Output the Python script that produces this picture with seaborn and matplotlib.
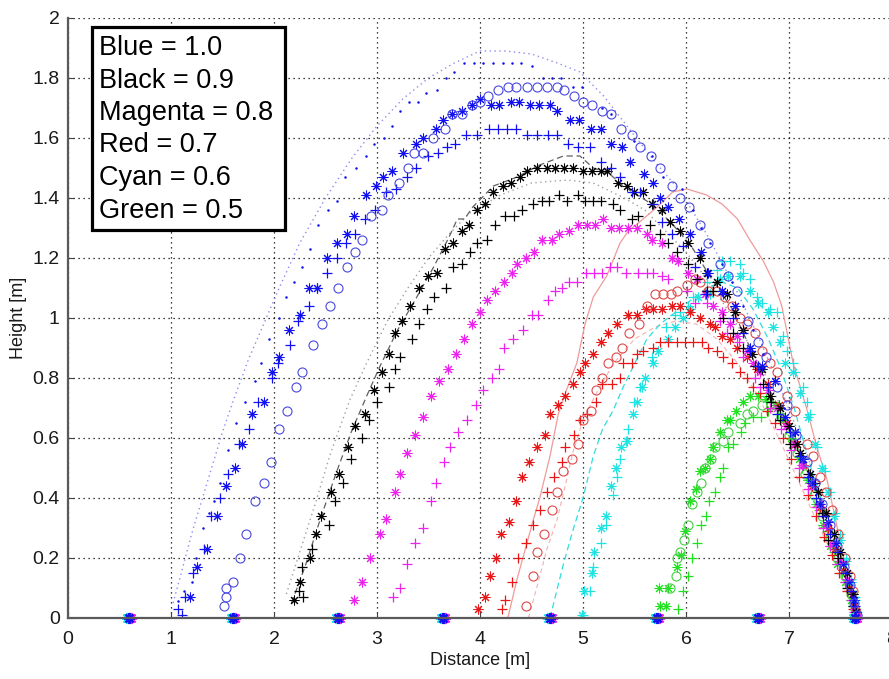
import numpy as np
import pandas as pd
import matplotlib
matplotlib.use("Agg")
import matplotlib.pyplot as plt
import seaborn as sns
from matplotlib.patches import Rectangle

# ---------------- data (distance [m], height [m]) ----------------
blue_dots = [(1.07,0.057),(1.13,0.09),(1.20,0.12),(1.24,0.20),(1.31,0.30),(1.37,0.35),(1.42,0.39),(1.48,0.45),(1.55,0.56),(1.63,0.65),(1.72,0.72),(1.82,0.79),(1.87,0.85),(1.95,0.93),(2.05,1.00),(2.12,1.07),(2.19,1.12),(2.27,1.17),(2.35,1.23),(2.43,1.31),(2.52,1.36),(2.61,1.39),(2.69,1.47),(2.80,1.50),(2.89,1.54),(2.97,1.58),(3.07,1.60),(3.15,1.64),(3.22,1.69),(3.31,1.72),(3.40,1.72),(3.48,1.75),(3.58,1.76),(3.67,1.80),(3.75,1.82),(3.84,1.85),(3.94,1.85),(4.03,1.85),(4.13,1.85),(4.22,1.85),(4.31,1.85),(4.40,1.85),(4.50,1.84),(4.61,1.80),(4.70,1.80),(4.79,1.80),(4.90,1.77),(4.99,1.77),(5.18,1.70),(5.27,1.68),(5.50,1.59),(5.67,1.54),(5.78,1.47),(5.96,1.43),(6.07,1.36),(6.15,1.30),(6.23,1.25),(6.35,1.18),(6.45,1.12),(6.55,1.04),(6.65,0.96),(6.75,0.88),(6.85,0.79),(6.95,0.70),(7.05,0.61),(7.15,0.52),(7.25,0.43),(7.35,0.34),(7.45,0.25),(7.55,0.15),(7.62,0.07),(7.66,0.02)]
blue_star = [(1.18,0.07),(1.25,0.17),(1.35,0.23),(1.45,0.34),(1.53,0.44),(1.62,0.50),(1.69,0.58),(1.79,0.68),(1.90,0.72),(1.98,0.82),(2.05,0.87),(2.15,0.96),(2.25,1.01),(2.34,1.10),(2.42,1.10),(2.51,1.20),(2.61,1.25),(2.71,1.28),(2.78,1.34),(2.89,1.41),(2.99,1.44),(3.06,1.47),(3.15,1.49),(3.25,1.55),(3.38,1.58),(3.45,1.60),(3.57,1.63),(3.64,1.66),(3.73,1.68),(3.83,1.69),(3.92,1.71),(4.00,1.73),(4.11,1.71),(4.18,1.71),(4.30,1.72),(4.38,1.72),(4.49,1.71),(4.57,1.71),(4.68,1.71),(4.75,1.69),(4.87,1.66),(4.96,1.66),(5.08,1.63),(5.17,1.63),(5.27,1.58),(5.38,1.57),(5.46,1.52),(5.59,1.48),(5.68,1.45),(5.75,1.40),(5.83,1.37),(5.93,1.33),(6.04,1.28),(6.15,1.22),(6.21,1.15),(6.35,1.09),(6.48,1.04),(6.62,0.90),(6.74,0.84),(6.86,0.79),(6.96,0.67),(7.06,0.62),(7.14,0.53),(7.22,0.45),(7.30,0.38),(7.38,0.32),(7.46,0.25),(7.52,0.18),(7.58,0.12),(7.63,0.06),(7.65,0.01)]
blue_plus = [(1.07,0.03),(1.11,0.01),(1.14,0.07),(1.21,0.15),(1.32,0.23),(1.39,0.34),(1.48,0.40),(1.55,0.48),(1.66,0.58),(1.76,0.63),(1.84,0.72),(1.98,0.80),(2.04,0.85),(2.16,0.91),(2.23,0.99),(2.34,1.04),(2.42,1.10),(2.51,1.15),(2.61,1.20),(2.70,1.25),(2.79,1.28),(2.88,1.33),(2.98,1.36),(3.09,1.42),(3.18,1.43),(3.29,1.47),(3.38,1.50),(3.50,1.54),(3.59,1.55),(3.68,1.57),(3.76,1.58),(3.86,1.61),(3.97,1.61),(4.09,1.63),(4.17,1.63),(4.26,1.63),(4.35,1.63),(4.46,1.61),(4.55,1.61),(4.66,1.61),(4.75,1.61),(4.85,1.58),(4.95,1.57),(5.07,1.57),(5.17,1.52),(5.27,1.50),(5.36,1.47),(5.48,1.42),(5.55,1.42),(5.68,1.38),(5.77,1.32),(5.86,1.28),(5.97,1.24),(6.09,1.17),(6.19,1.08),(6.36,1.08),(6.46,1.00),(6.55,0.95),(6.62,0.89),(6.70,0.84),(6.80,0.77),(6.88,0.68),(7.01,0.62),(7.11,0.54),(7.18,0.47),(7.26,0.40),(7.33,0.34),(7.40,0.28),(7.47,0.22),(7.54,0.15),(7.60,0.09),(7.64,0.04)]
blue_circ = [(1.51,0.04),(1.53,0.07),(1.53,0.10),(1.60,0.12),(1.67,0.20),(1.73,0.28),(1.82,0.39),(1.90,0.45),(1.97,0.52),(2.05,0.63),(2.13,0.69),(2.21,0.77),(2.27,0.82),(2.38,0.91),(2.47,0.98),(2.54,1.04),(2.62,1.10),(2.71,1.17),(2.79,1.22),(2.85,1.26),(2.94,1.34),(3.05,1.36),(3.11,1.41),(3.21,1.45),(3.30,1.50),(3.36,1.55),(3.45,1.55),(3.54,1.60),(3.66,1.63),(3.73,1.68),(3.83,1.68),(3.92,1.71),(4.00,1.72),(4.08,1.74),(4.17,1.76),(4.27,1.77),(4.35,1.77),(4.46,1.77),(4.55,1.77),(4.65,1.77),(4.75,1.77),(4.82,1.76),(4.91,1.74),(5.00,1.72),(5.09,1.71),(5.18,1.69),(5.27,1.68),(5.37,1.63),(5.48,1.61),(5.55,1.57),(5.66,1.54),(5.75,1.50),(5.86,1.44),(5.94,1.40),(6.03,1.37),(6.14,1.31),(6.21,1.25),(6.33,1.18),(6.41,1.14),(6.50,1.09),(6.60,0.99),(6.70,0.92),(6.78,0.87),(6.88,0.77),(6.98,0.71),(7.07,0.61),(7.17,0.52),(7.25,0.45),(7.32,0.38),(7.40,0.31),(7.47,0.24),(7.53,0.17),(7.59,0.11),(7.63,0.05),(7.66,0.01)]
blue_line = [(1.02,0.05),(1.10,0.15),(1.20,0.28),(1.35,0.45),(1.50,0.62),(1.60,0.72),(1.75,0.86),(1.90,0.98),(2.05,1.10),(2.25,1.25),(2.50,1.40),(2.75,1.53),(3.00,1.64),(3.25,1.73),(3.50,1.80),(3.75,1.85),(4.00,1.89),(4.25,1.89),(4.50,1.88),(4.75,1.85),(4.97,1.82),(5.20,1.74),(5.45,1.63),(5.70,1.52),(5.95,1.42),(6.20,1.28),(6.45,1.12),(6.70,0.94),(6.95,0.74),(7.20,0.52),(7.40,0.32),(7.55,0.16),(7.67,0.02)]

black_star = [(2.19,0.06),(2.25,0.12),(2.35,0.20),(2.41,0.28),(2.46,0.34),(2.55,0.42),(2.63,0.48),(2.72,0.57),(2.79,0.64),(2.88,0.68),(2.97,0.76),(3.05,0.82),(3.12,0.88),(3.17,0.95),(3.24,0.99),(3.32,1.04),(3.41,1.10),(3.50,1.14),(3.58,1.15),(3.66,1.23),(3.74,1.25),(3.83,1.29),(3.89,1.31),(3.97,1.36),(4.05,1.38),(4.13,1.42),(4.22,1.44),(4.30,1.45),(4.39,1.47),(4.46,1.49),(4.55,1.50),(4.65,1.50),(4.73,1.50),(4.82,1.50),(4.90,1.50),(5.00,1.49),(5.09,1.49),(5.17,1.49),(5.23,1.49),(5.34,1.45),(5.43,1.44),(5.50,1.42),(5.58,1.42),(5.67,1.38),(5.77,1.36),(5.84,1.32),(5.94,1.29),(6.02,1.25),(6.14,1.20),(6.20,1.15),(6.30,1.12),(6.40,1.08),(6.48,1.02),(6.55,0.96),(6.64,0.88),(6.74,0.83),(6.82,0.74),(6.91,0.70),(7.00,0.64),(7.08,0.58),(7.11,0.55),(7.20,0.48),(7.28,0.42),(7.36,0.35),(7.44,0.28),(7.50,0.22),(7.56,0.15),(7.62,0.08),(7.65,0.02)]
black_plus = [(2.24,0.09),(2.28,0.07),(2.27,0.17),(2.37,0.23),(2.53,0.31),(2.59,0.39),(2.67,0.45),(2.75,0.53),(2.85,0.60),(2.92,0.66),(3.00,0.72),(3.12,0.77),(3.17,0.83),(3.22,0.87),(3.34,0.93),(3.41,0.98),(3.49,1.03),(3.55,1.07),(3.67,1.10),(3.74,1.17),(3.83,1.18),(3.90,1.22),(3.97,1.25),(4.07,1.26),(4.15,1.31),(4.24,1.34),(4.33,1.34),(4.41,1.36),(4.51,1.38),(4.60,1.39),(4.67,1.39),(4.77,1.41),(4.84,1.39),(4.95,1.41),(5.02,1.39),(5.10,1.39),(5.17,1.39),(5.29,1.38),(5.36,1.36),(5.48,1.33),(5.53,1.34),(5.65,1.31),(5.75,1.28),(5.83,1.25),(5.91,1.22),(6.02,1.18),(6.11,1.13),(6.20,1.09),(6.26,1.09),(6.36,1.00),(6.46,0.95),(6.55,0.90),(6.67,0.84),(6.75,0.78),(6.83,0.72),(6.91,0.66),(7.01,0.58),(7.11,0.54),(7.18,0.48),(7.25,0.45),(7.32,0.35),(7.38,0.26),(7.48,0.20),(7.56,0.10),(7.62,0.04),(7.64,0.00)]
black_dash = [(2.17,0.05),(2.30,0.17),(2.45,0.33),(2.60,0.48),(2.75,0.62),(2.90,0.74),(3.03,0.84),(3.20,0.96),(3.37,1.06),(3.55,1.17),(3.70,1.27),(3.78,1.33),(3.85,1.33),(3.93,1.37),(4.13,1.44),(4.36,1.47),(4.58,1.51),(4.81,1.54),(4.97,1.54),(5.10,1.50),(5.26,1.48),(5.39,1.44),(5.62,1.39),(5.85,1.32),(6.05,1.24),(6.25,1.13),(6.45,1.03),(6.65,0.88),(6.85,0.72),(7.05,0.60),(7.25,0.45),(7.45,0.27),(7.60,0.10),(7.65,0.00)]
black_dot = [(2.12,0.08),(2.25,0.22),(2.40,0.38),(2.55,0.55),(2.74,0.73),(2.90,0.85),(3.10,0.99),(3.30,1.10),(3.50,1.20),(3.70,1.28),(3.90,1.35),(4.20,1.41),(4.50,1.45),(4.85,1.46),(5.10,1.45),(5.40,1.40),(5.60,1.36),(5.80,1.29),(6.00,1.22),(6.20,1.13),(6.40,1.03),(6.60,0.92),(6.80,0.79),(7.00,0.65),(7.20,0.48),(7.40,0.30),(7.55,0.15),(7.65,0.00)]

magenta_star = [(2.78,0.06),(2.85,0.12),(2.93,0.20),(3.03,0.28),(3.09,0.33),(3.17,0.42),(3.22,0.48),(3.29,0.55),(3.37,0.61),(3.45,0.67),(3.52,0.74),(3.60,0.79),(3.69,0.83),(3.77,0.88),(3.84,0.93),(3.92,0.98),(4.00,1.02),(4.07,1.06),(4.15,1.09),(4.23,1.12),(4.31,1.15),(4.36,1.18),(4.45,1.20),(4.52,1.22),(4.60,1.26),(4.70,1.26),(4.77,1.28),(4.86,1.29),(4.95,1.31),(5.04,1.31),(5.12,1.31),(5.19,1.33),(5.27,1.30),(5.35,1.30),(5.44,1.30),(5.52,1.30),(5.62,1.28),(5.67,1.26),(5.77,1.25),(5.86,1.20),(5.92,1.19),(6.02,1.15),(6.11,1.13),(6.18,1.08),(6.26,1.04),(6.35,1.02),(6.43,0.98),(6.50,0.94),(6.59,0.89),(6.65,0.85),(6.72,0.82),(6.80,0.76),(6.88,0.70),(6.97,0.64),(7.05,0.58),(7.13,0.51),(7.21,0.45),(7.29,0.38),(7.36,0.31),(7.43,0.25),(7.50,0.19),(7.56,0.13),(7.61,0.08),(7.64,0.03)]
magenta_plus = [(3.16,0.07),(3.22,0.10),(3.29,0.18),(3.37,0.25),(3.45,0.30),(3.52,0.39),(3.57,0.45),(3.65,0.52),(3.71,0.57),(3.79,0.62),(3.87,0.66),(3.96,0.71),(4.03,0.76),(4.12,0.80),(4.18,0.83),(4.23,0.90),(4.32,0.93),(4.42,0.96),(4.50,1.01),(4.56,1.01),(4.66,1.06),(4.73,1.09),(4.80,1.10),(4.86,1.12),(4.94,1.12),(5.03,1.15),(5.11,1.15),(5.18,1.15),(5.26,1.17),(5.33,1.17),(5.42,1.15),(5.53,1.15),(5.62,1.15),(5.68,1.15),(5.77,1.14),(5.83,1.13),(6.01,1.09),(6.09,1.05),(6.20,1.05),(6.33,0.99),(6.40,0.95),(6.51,0.92),(6.55,0.87),(6.67,0.80),(6.72,0.77),(6.82,0.70),(6.92,0.63),(7.02,0.56),(7.10,0.50),(7.18,0.43),(7.26,0.37),(7.33,0.30),(7.40,0.24),(7.47,0.18),(7.54,0.12),(7.60,0.06),(7.63,0.02)]

red_star = [(3.98,0.03),(4.05,0.07),(4.10,0.14),(4.16,0.20),(4.20,0.28),(4.28,0.32),(4.35,0.39),(4.41,0.47),(4.48,0.52),(4.55,0.57),(4.63,0.61),(4.68,0.68),(4.76,0.71),(4.83,0.74),(4.90,0.78),(4.97,0.82),(5.02,0.85),(5.10,0.88),(5.17,0.92),(5.24,0.95),(5.33,0.98),(5.44,1.01),(5.52,1.01),(5.61,1.03),(5.68,1.03),(5.77,1.03),(5.86,1.04),(5.94,1.04),(6.04,1.02),(6.14,1.00),(6.23,0.98),(6.28,0.97),(6.35,0.94),(6.43,0.93),(6.50,0.90),(6.59,0.87),(6.69,0.83),(6.80,0.78),(6.90,0.71),(6.98,0.65),(7.06,0.58),(7.14,0.51),(7.22,0.44),(7.30,0.37),(7.38,0.30),(7.45,0.23),(7.52,0.16),(7.58,0.10),(7.63,0.04)]
red_plus = [(4.21,0.03),(4.24,0.06),(4.31,0.12),(4.37,0.20),(4.45,0.25),(4.51,0.31),(4.58,0.36),(4.65,0.42),(4.72,0.47),(4.80,0.52),(4.83,0.57),(4.91,0.61),(4.97,0.66),(5.04,0.68),(5.13,0.72),(5.18,0.78),(5.28,0.78),(5.36,0.80),(5.39,0.85),(5.48,0.85),(5.52,0.88),(5.58,0.89),(5.68,0.90),(5.75,0.92),(5.83,0.92),(5.91,0.92),(5.99,0.92),(6.07,0.92),(6.16,0.92),(6.21,0.90),(6.30,0.89),(6.36,0.87),(6.45,0.85),(6.52,0.82),(6.59,0.80),(6.65,0.77),(6.72,0.75),(6.79,0.69),(6.86,0.65),(6.94,0.60),(7.02,0.53),(7.10,0.47),(7.18,0.41),(7.26,0.34),(7.34,0.27),(7.42,0.21),(7.49,0.15),(7.56,0.09),(7.62,0.03)]
red_circ = [(4.45,0.04),(4.51,0.14),(4.55,0.22),(4.62,0.28),(4.70,0.36),(4.75,0.42),(4.81,0.49),(4.89,0.53),(4.95,0.58),(5.00,0.66),(5.08,0.69),(5.13,0.76),(5.18,0.80),(5.24,0.85),(5.32,0.87),(5.38,0.90),(5.45,0.95),(5.54,0.98),(5.62,1.04),(5.70,1.08),(5.78,1.08),(5.85,1.08),(5.91,1.09),(6.01,1.11),(6.09,1.13),(6.14,1.12),(6.21,1.09),(6.30,1.09),(6.38,1.07),(6.45,1.04),(6.52,1.00),(6.59,0.98),(6.67,0.95),(6.74,0.89),(6.82,0.85),(6.88,0.82),(6.98,0.74),(7.06,0.69),(7.17,0.58),(7.23,0.54),(7.30,0.47),(7.36,0.42),(7.42,0.36),(7.48,0.28),(7.54,0.20),(7.59,0.14),(7.62,0.09),(7.65,0.02)]
red_line = [(4.27,0.00),(4.36,0.13),(4.44,0.23),(4.52,0.33),(4.58,0.40),(4.68,0.54),(4.76,0.68),(4.84,0.76),(4.94,0.85),(5.02,0.98),(5.10,1.07),(5.23,1.14),(5.36,1.25),(5.44,1.29),(5.55,1.32),(5.72,1.37),(5.87,1.42),(6.01,1.43),(6.20,1.41),(6.35,1.38),(6.50,1.33),(6.62,1.26),(6.75,1.19),(6.85,1.12),(6.93,1.04),(7.04,0.85),(7.17,0.70),(7.27,0.57),(7.37,0.46),(7.45,0.33),(7.55,0.17),(7.65,0.00)]
red_dash = [(4.47,0.00),(4.55,0.10),(4.65,0.23),(4.75,0.33),(4.84,0.46),(4.90,0.55),(5.00,0.66),(5.13,0.75),(5.30,0.85),(5.50,0.93),(5.70,0.97),(5.90,0.99),(6.10,0.98),(6.30,0.93),(6.50,0.85),(6.70,0.74),(6.90,0.60),(7.10,0.45),(7.30,0.30),(7.50,0.15),(7.65,0.00)]

cyan_star = [(4.99,0.01),(5.01,0.09),(5.09,0.15),(5.11,0.22),(5.17,0.30),(5.22,0.34),(5.27,0.44),(5.32,0.50),(5.37,0.57),(5.43,0.59),(5.49,0.68),(5.52,0.72),(5.57,0.77),(5.60,0.80),(5.68,0.85),(5.73,0.89),(5.83,0.93),(5.89,0.97),(5.97,1.00),(6.04,1.03),(6.12,1.07),(6.23,1.08),(6.33,1.13),(6.41,1.14),(6.52,1.14),(6.62,1.09),(6.70,1.05),(6.80,1.02),(6.84,0.97),(6.91,0.92),(6.96,0.85),(7.04,0.82),(7.11,0.75),(7.18,0.67),(7.25,0.58),(7.32,0.50),(7.38,0.42),(7.44,0.34),(7.50,0.26),(7.55,0.19),(7.60,0.12),(7.64,0.06),(7.66,0.01)]
cyan_plus = [(5.00,0.01),(5.07,0.09),(5.10,0.17),(5.17,0.25),(5.22,0.31),(5.29,0.41),(5.33,0.47),(5.36,0.53),(5.42,0.59),(5.44,0.63),(5.50,0.72),(5.55,0.77),(5.67,0.87),(5.81,0.97),(5.89,1.01),(5.94,1.02),(6.02,1.04),(6.07,1.07),(6.20,1.12),(6.30,1.16),(6.35,1.19),(6.43,1.19),(6.52,1.18),(6.55,1.15),(6.62,1.13),(6.69,1.07),(6.74,1.05),(6.82,1.03),(6.88,1.02),(6.94,0.94),(6.98,0.89),(7.04,0.85),(7.06,0.82),(7.14,0.77),(7.17,0.72),(7.20,0.68),(7.27,0.57),(7.35,0.49),(7.40,0.42),(7.45,0.35),(7.50,0.28),(7.55,0.20),(7.60,0.13),(7.64,0.07),(7.66,0.02)]
cyan_dash = [(4.68,0.00),(4.73,0.07),(4.81,0.18),(4.90,0.29),(5.00,0.40),(5.10,0.54),(5.19,0.63),(5.29,0.69),(5.39,0.77),(5.49,0.84),(5.62,0.93),(5.75,0.98),(5.90,1.02),(6.05,1.06),(6.20,1.10),(6.35,1.12),(6.50,1.10),(6.65,1.03),(6.80,0.93),(6.91,0.84),(7.05,0.70),(7.23,0.48),(7.40,0.30),(7.55,0.15),(7.66,0.00)]

green_star = [(5.75,0.04),(5.81,0.04),(5.74,0.10),(5.83,0.10),(5.91,0.17),(5.95,0.21),(5.99,0.29),(6.04,0.39),(6.10,0.43),(6.14,0.49),(6.18,0.50),(6.23,0.53),(6.26,0.57),(6.33,0.62),(6.40,0.66),(6.43,0.66),(6.49,0.69),(6.55,0.72),(6.62,0.74),(6.70,0.74),(6.78,0.73),(6.86,0.71),(6.94,0.66),(7.02,0.60),(7.10,0.53),(7.18,0.46),(7.26,0.38),(7.33,0.31),(7.40,0.24),(7.47,0.18),(7.54,0.12),(7.60,0.06),(7.64,0.02)]
green_circ = [(5.84,0.10),(5.90,0.14),(5.91,0.20),(5.94,0.22),(5.98,0.26),(6.02,0.31),(6.06,0.38),(6.11,0.42),(6.15,0.45),(6.18,0.50),(6.24,0.53),(6.28,0.57),(6.36,0.59),(6.41,0.62),(6.52,0.65),(6.59,0.68),(6.65,0.69),(6.74,0.71),(6.83,0.71),(6.92,0.67),(7.00,0.61),(7.08,0.55),(7.16,0.48),(7.24,0.41),(7.32,0.34),(7.40,0.27),(7.47,0.20),(7.54,0.14),(7.60,0.08),(7.64,0.03)]
green_plus = [(5.92,0.03),(5.97,0.09),(6.02,0.14),(6.06,0.20),(6.11,0.25),(6.15,0.31),(6.19,0.34),(6.22,0.39),(6.28,0.42),(6.33,0.47),(6.36,0.50),(6.41,0.57),(6.46,0.58),(6.53,0.62),(6.57,0.65),(6.65,0.67),(6.73,0.67),(6.80,0.69),(6.89,0.68),(6.97,0.63),(7.05,0.57),(7.13,0.50),(7.21,0.43),(7.29,0.36),(7.37,0.29),(7.44,0.22),(7.51,0.15),(7.57,0.09),(7.62,0.04)]

ground_x = [0.59, 1.60, 2.62, 3.64, 4.68, 5.72, 6.70, 7.64]

legend_lines = ["Blue = 1.0", "Black = 0.9", "Magenta = 0.8", "Red = 0.7", "Cyan = 0.6", "Green = 0.5"]
x_ticks = [0, 1, 2, 3, 4, 5, 6, 7, 8]
y_ticks = [0, 0.2, 0.4, 0.6, 0.8, 1, 1.2, 1.4, 1.6, 1.8, 2]
y_ticklabels = ["0", "0.2", "0.4", "0.6", "0.8", "1", "1.2", "1.4", "1.6", "1.8", "2"]

# ---------------- figure ----------------
W, H = 889, 679
fig = plt.figure(figsize=(W / 100, H / 100), dpi=100)
ax = fig.add_axes([68 / W, (H - 618) / H, 824 / W, 600 / H])

STAR = (8, 2, 0)

def draw(points, color, marker="none", ms=6, mew=0.75, mfc=None, ls="none", lw=1.0, z=3):
    df = pd.DataFrame(points, columns=["x", "y"])
    sns.lineplot(data=df, x="x", y="y", sort=False, estimator=None, ax=ax,
                 color=color, marker=marker, markersize=ms, markeredgewidth=mew,
                 markeredgecolor=color, markerfacecolor=(mfc if mfc is not None else color),
                 linestyle=ls, linewidth=lw, zorder=z, legend=False)

# lines
draw(blue_line, "#8c8cf0", ls=(0, (1, 2.5)), lw=1.0, z=2)
draw(black_dot, "#a0a0a0", ls=(0, (1, 2.5)), lw=1.0, z=2)
draw(black_dash, "#606060", ls=(0, (5, 3)), lw=0.9, z=2)
draw(red_line, "#f09a9a", ls="-", lw=0.9, z=2)
draw(red_dash, "#f4b0b0", ls=(0, (4, 3)), lw=0.8, z=2)
draw(cyan_dash, "#30dede", ls=(0, (5, 3)), lw=0.9, z=2)

# markers
CY, GR, RD, MG, BK, BL = "#1ee3e3", "#1ee21e", "#e81616", "#ee22ee", "#000000", "#1010f0"
SMS, PMS, OMS = 7.0, 7.5, 6.5
draw(cyan_star, CY, STAR, ms=SMS, z=3)
draw(cyan_plus, CY, "+", ms=PMS, mew=0.9, z=3)
draw(green_star, GR, STAR, ms=SMS, z=3)
draw(green_circ, "#40d040", "o", ms=OMS, mew=0.8, mfc="none", z=3)
draw(green_plus, GR, "+", ms=PMS, mew=0.9, z=3)
draw(red_star, RD, STAR, ms=SMS, z=4)
draw(red_plus, RD, "+", ms=PMS, mew=0.9, z=4)
draw(red_circ, "#e04848", "o", ms=OMS, mew=0.8, mfc="none", z=4)
draw(magenta_star, MG, STAR, ms=SMS, z=4)
draw(magenta_plus, MG, "+", ms=PMS, mew=0.9, z=4)
draw(black_star, BK, STAR, ms=SMS, z=5)
draw(black_plus, BK, "+", ms=PMS, mew=0.9, z=5)
draw(blue_star, BL, STAR, ms=SMS, z=5)
draw(blue_plus, BL, "+", ms=PMS, mew=0.9, z=5)
draw(blue_circ, "#4848e0", "o", ms=OMS, mew=0.8, mfc="none", z=5)
draw(blue_dots, BL, "o", ms=1.8, mew=0, z=5)

# launch markers on the ground
gdf = pd.DataFrame({"x": ground_x, "y": [0.0] * len(ground_x)})
for col, off, zz in ((CY, -0.02, 6), (MG, 0.02, 6), (BL, 0.0, 7)):
    sns.lineplot(data=gdf.assign(x=gdf["x"] + off), x="x", y="y", sort=False, estimator=None,
                 ax=ax, color=col, marker=STAR, markersize=8, markeredgewidth=1.4,
                 markeredgecolor=col, linestyle="none", zorder=zz, legend=False, clip_on=False)

# axes styling
ax.set_xlim(0, 8)
ax.set_ylim(0, 2)
ax.set_xticks(x_ticks)
ax.set_xticklabels([str(t) for t in x_ticks])
ax.set_yticks(y_ticks)
ax.set_yticklabels(y_ticklabels)
ax.grid(True, color="black", linestyle=(0, (1, 3)), linewidth=0.9)
ax.set_axisbelow(True)
for s in ("top", "right"):
    ax.spines[s].set_visible(False)
for s in ("left", "bottom"):
    ax.spines[s].set_color("#5a5a5a")
    ax.spines[s].set_linewidth(1.6)
    ax.spines[s].set_zorder(7)

tick_font = ["Liberation Sans", "DejaVu Sans"]
ax.tick_params(axis="both", direction="in", length=4, width=0.8, color="#404040",
               labelsize=14, labelcolor="#1a1a1a")
ax.tick_params(axis="x", pad=9)
ax.tick_params(axis="y", pad=6)
for lab in ax.get_xticklabels() + ax.get_yticklabels():
    lab.set_family(tick_font)

ax.set_xlabel("Distance [m]", fontsize=13, family=tick_font, color="#1a1a1a")
ax.set_ylabel("Height [m]", fontsize=13, family=tick_font, color="#1a1a1a")
ax.xaxis.set_label_coords(0.5, -0.056)
ax.yaxis.set_label_coords(-0.05, 0.5)

# legend box (text annotation)
box = Rectangle((92 / W, 1 - 230 / H), (285 - 92) / W, (230 - 27) / H, transform=fig.transFigure,
                facecolor="white", edgecolor="black", linewidth=2.3, zorder=10, clip_on=False)
ax.add_patch(box)
for i, txt in enumerate(legend_lines):
    ax.text(99 / W, 1 - (55 + i * 32.5) / H, txt, transform=fig.transFigure, fontsize=19.5,
            family=["Liberation Sans", "DejaVu Sans"], va="baseline", ha="left", zorder=11)

fig.savefig("out.png", dpi=100)
